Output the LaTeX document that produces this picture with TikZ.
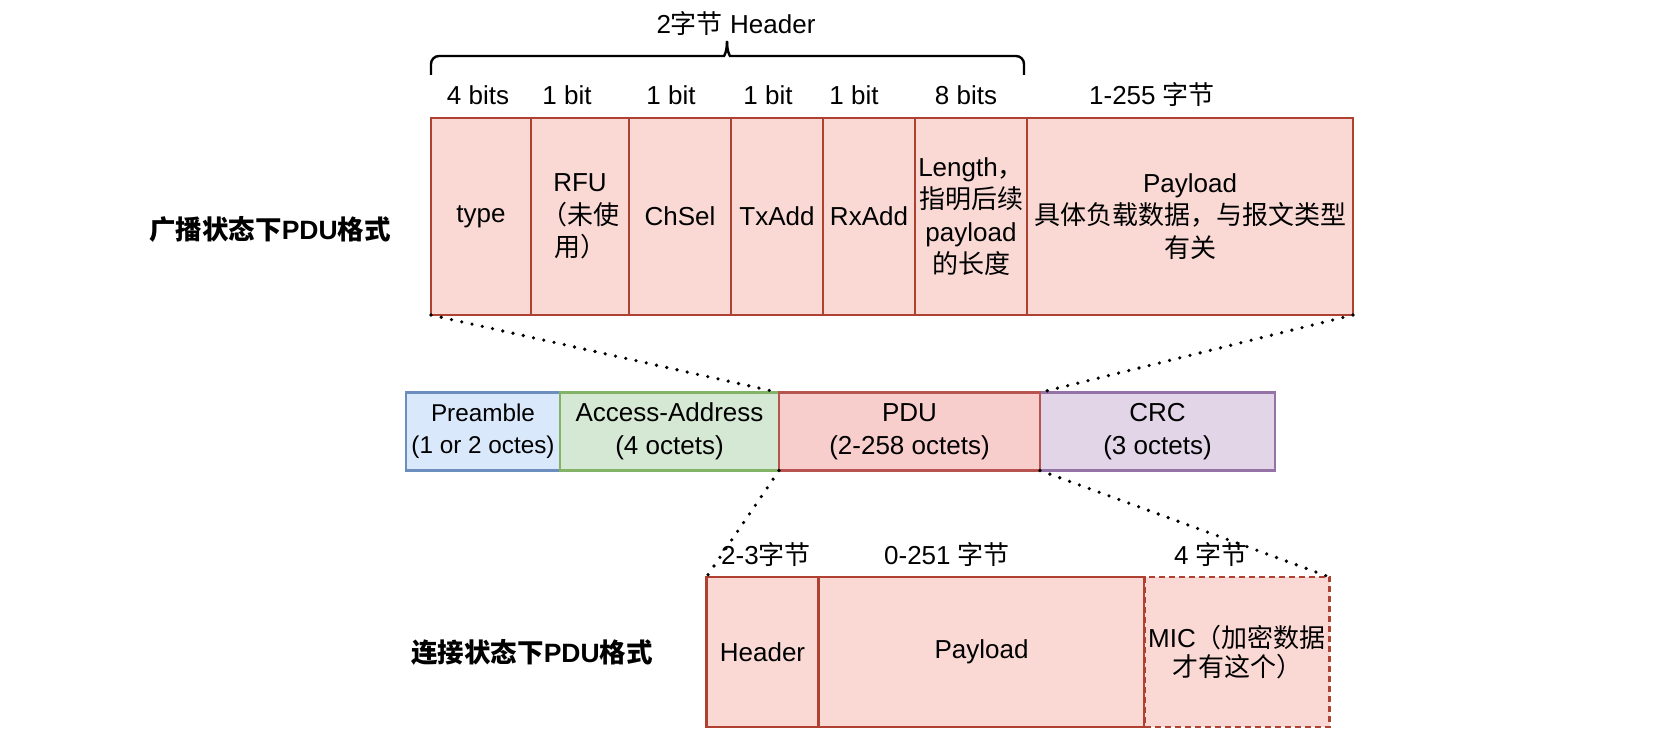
\documentclass[tikz,border=0pt]{standalone}
\usepackage{fontspec}
\setmainfont{Liberation Sans}
\newfontfamily\cjk{Noto Sans CJK SC}
\newcommand{\zh}[1]{{\cjk #1}}
\definecolor{redfill}{HTML}{FAD9D5}
\definecolor{redline}{HTML}{AE4132}
\definecolor{pdufill}{HTML}{F8CECC}
\definecolor{pduline}{HTML}{B85450}
\definecolor{bluefill}{HTML}{DAE8FC}
\definecolor{blueline}{HTML}{6C8EBF}
\definecolor{greenfill}{HTML}{D5E8D4}
\definecolor{greenline}{HTML}{82B366}
\definecolor{purplefill}{HTML}{E1D5E7}
\definecolor{purpleline}{HTML}{9673A6}
\tikzset{
  basebox/.style={line width=2.2pt, inner sep=0pt, outer sep=0pt, align=center},
  topbox/.style={basebox, draw=redline, fill=redfill, minimum height=197pt},
  midbox/.style={basebox, minimum height=78pt},
  botbox/.style={basebox, draw=redline, fill=redfill, minimum height=150pt},
  lbl/.style={inner sep=0pt, align=center},
  boldlbl/.style={inner sep=0pt, font=\fontsize{26.5}{32}\selectfont\bfseries},
  dotline/.style={line width=3.6pt, dash pattern=on 0pt off 10.5pt, line cap=round},
}
\begin{document}
\begin{tikzpicture}[x=1pt,y=-1pt, every node/.style={font=\fontsize{26}{32.5}\selectfont}]
\useasboundingbox (0,0) rectangle (1669,741);
% brace
\draw[line width=2.4pt, rounded corners=8pt] (431,75) -- (431,56) -- (716,56) .. controls (724,56) and (727,52) .. (727,41);
\draw[line width=2.4pt, rounded corners=8pt] (1024,75) -- (1024,56) -- (738,56) .. controls (730,56) and (727,52) .. (727,41);
\node[lbl] (hdrtitle) at (736,24) {2\zh{字节} Header};
% bit labels
\node[lbl] (b1) at (478,95) {4 bits};
\node[lbl] (b2) at (567,95) {1 bit};
\node[lbl] (b3) at (671,95) {1 bit};
\node[lbl] (b4) at (768,95) {1 bit};
\node[lbl] (b5) at (854,95) {1 bit};
\node[lbl] (b6) at (966,95) {8 bits};
\node[lbl] (b7) at (1152,95) {1-255 \zh{字节}};
% top boxes
\node[topbox, minimum width=100pt] (type) at (481,216.5) {\raisebox{-2pt}{type}};
\node[topbox, minimum width=98pt] (rfu) at (580,216.5) {RFU\\\zh{（未使}\\\zh{用）}};
\node[topbox, minimum width=102pt] (chsel) at (680,216.5) {\raisebox{-2pt}{ChSel}};
\node[topbox, minimum width=92pt] (txadd) at (777,216.5) {\raisebox{-2pt}{TxAdd}};
\node[topbox, minimum width=92pt] (rxadd) at (869,216.5) {\raisebox{-2pt}{RxAdd}};
\node[topbox, minimum width=112pt] (length) at (971,216.5) {Length\zh{，}\\\zh{指明后续}\\payload\\\zh{的长度}};
\node[topbox, minimum width=326pt] (payload) at (1190,216.5) {Payload\\\zh{具体负载数据，与报文类型}\\\zh{有关}};
\node[boldlbl] (advlbl) at (270,229) {\zh{广播状态下}PDU\zh{格式}};
% middle row
\node[midbox, draw=blueline, fill=bluefill, minimum width=154pt, font=\fontsize{24.3}{32}\selectfont] (pre) at (483,431.5) {Preamble\\(1 or 2 octes)};
\node[midbox, draw=greenline, fill=greenfill, minimum width=219pt] (aa) at (669.5,431.5) {Access-Address\\(4 octets)};
\node[midbox, draw=purpleline, fill=purplefill, minimum width=235pt] (crc) at (1157.5,431.5) {CRC\\(3 octets)};
\node[midbox, draw=pduline, fill=pdufill, minimum width=261pt] (pdu) at (909.5,431.5) {PDU\\(2-258 octets)};
% bottom row
\node[lbl] (l1) at (766,555) {2-3\zh{字节}};
\node[lbl] (l2) at (947,555) {0-251 \zh{字节}};
\node[lbl] (l3) at (1211,555) {4 \zh{字节}};
\node[botbox, minimum width=112pt] (hdr) at (762.5,652) {\raisebox{-2pt}{Header}};
\node[botbox, minimum width=326pt] (pay2) at (981.5,652) {\raisebox{-3pt}{Payload}};
\node[botbox, minimum width=185pt, dashed, dash pattern=on 6pt off 4pt] (mic) at (1237,652) {\raisebox{-3pt}{\zh{}MIC\zh{（加密数据}}\\\zh{才有这个）}};
\node[boldlbl] (conlbl) at (532,652) {\zh{连接状态下}PDU\zh{格式}};
% dotted connectors
\draw[dotline] (type.south west) -- (pdu.north west);
\draw[dotline] (payload.south east) -- (pdu.north east);
\draw[dotline] (pdu.south west) -- (hdr.north west);
\draw[dotline] (pdu.south east) -- (mic.north east);
\end{tikzpicture}
\end{document}
